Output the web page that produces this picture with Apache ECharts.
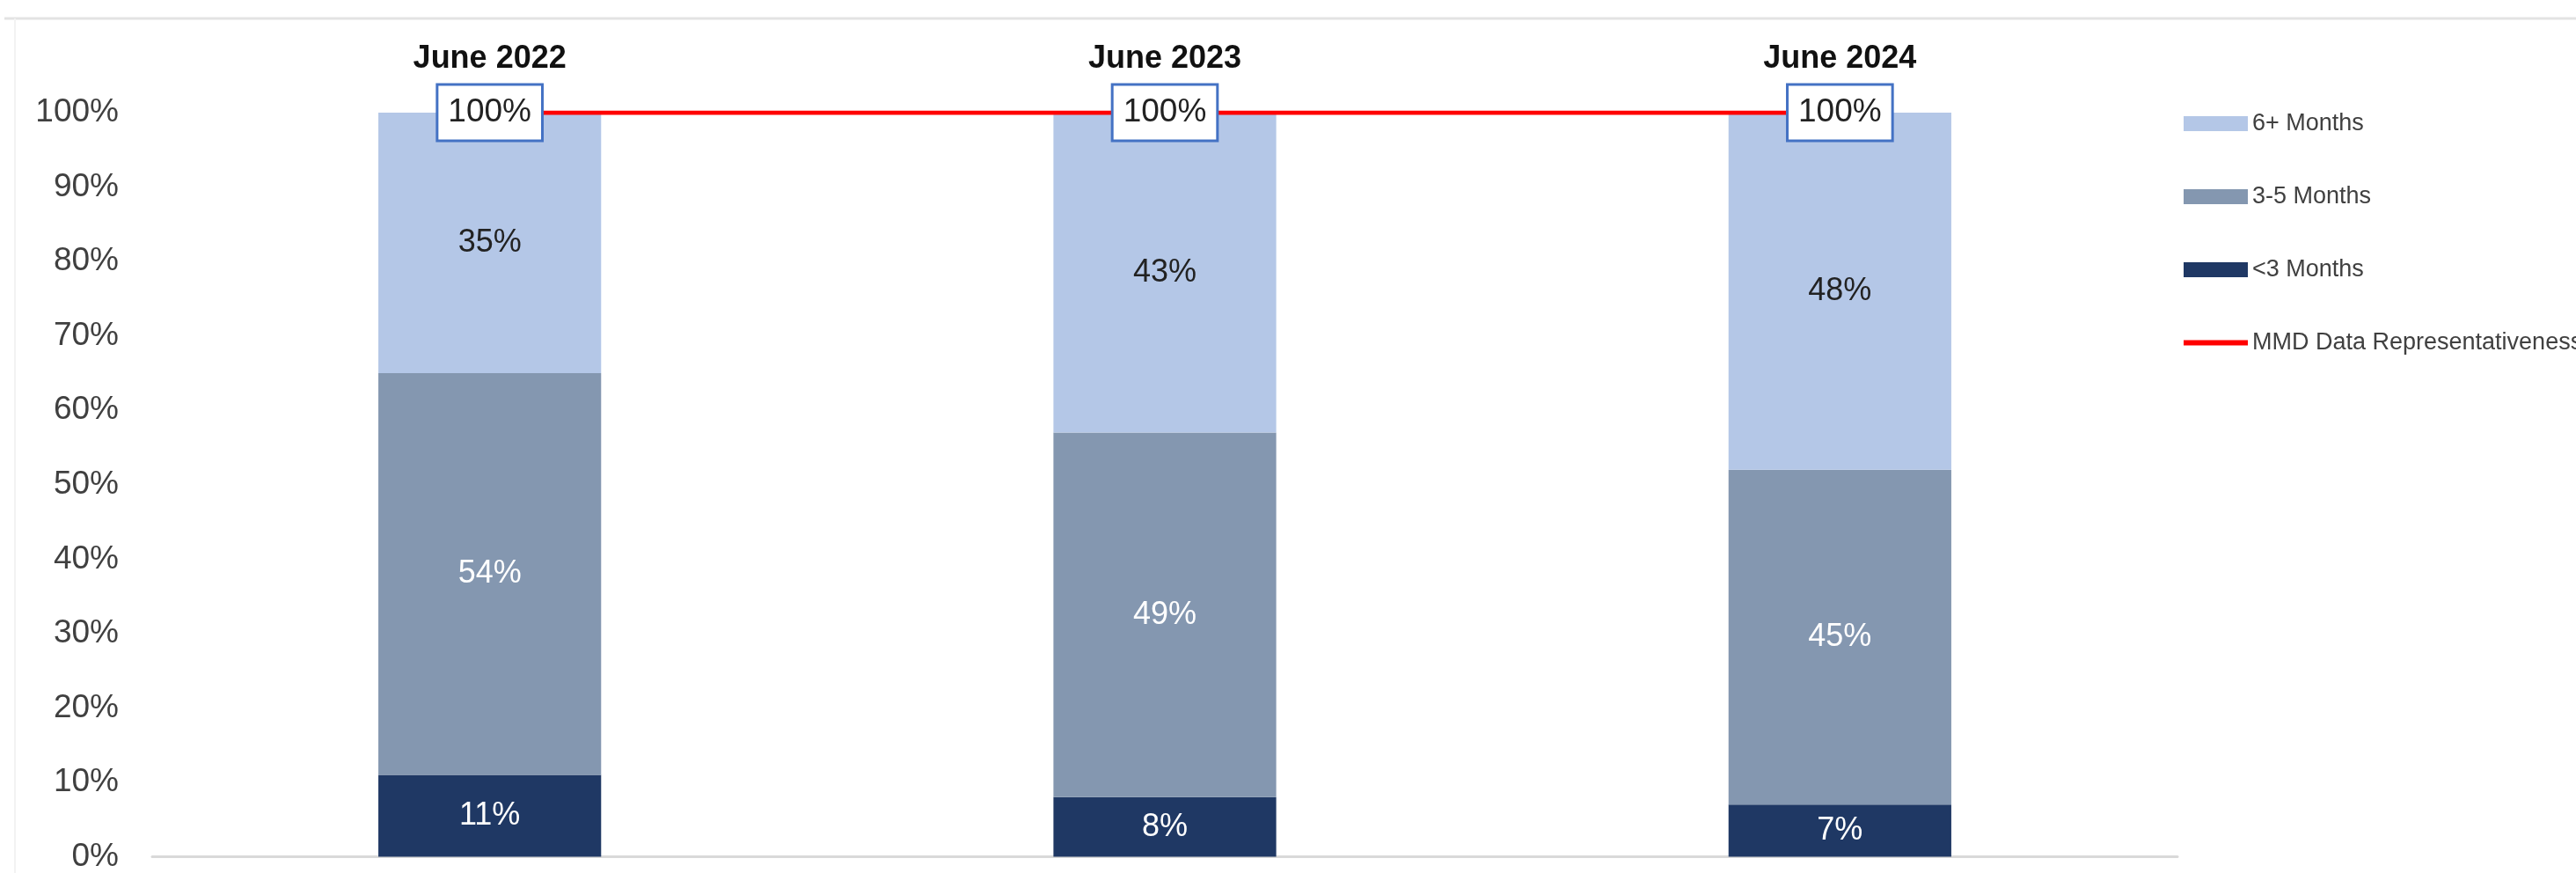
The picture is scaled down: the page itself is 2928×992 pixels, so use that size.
<!DOCTYPE html>
<html>
<head>
<meta charset="utf-8">
<script src="https://cdn.jsdelivr.net/npm/echarts@6/dist/echarts.min.js"></script>
<style>
html,body{margin:0;padding:0;background:#fff;}
#chart{width:2928px;height:992px;}
</style>
</head>
<body>
<div id="chart"></div>
<script>
const categories = ['June 2022', 'June 2023', 'June 2024'];
const under3 = [11, 8, 7];
const m3to5 = [54, 49, 45];
const m6plus = [35, 43, 48];
const mmdLine = [100, 100, 100];
const yTicks = [0, 10, 20, 30, 40, 50, 60, 70, 80, 90, 100];

const FONT = "'Liberation Sans', Arial, sans-serif";
const chart = echarts.init(document.getElementById('chart'));

const barLabel = (color) => ({
  show: true, position: 'inside', color: color,
  fontSize: 36, fontFamily: FONT,
  formatter: (p) => p.value + '%'
});

chart.setOption({
  backgroundColor: '#ffffff',
  animation: false,
  graphic: [
    { type: 'line', shape: { x1: 5, y1: 21, x2: 2928, y2: 21 }, style: { stroke: '#e3e3e3', lineWidth: 3 } },
    { type: 'line', shape: { x1: 17, y1: 21, x2: 17, y2: 992 }, style: { stroke: '#f2f2f2', lineWidth: 2 } }
  ],
  grid: { left: 173, right: 453, top: 128, bottom: 18, containLabel: false },
  legend: {
    orient: 'vertical', left: 2477, top: 122,
    itemWidth: 73, itemHeight: 17, itemGap: 56,
    textStyle: { fontSize: 27, fontFamily: FONT, color: '#404040' },
    data: [
      { name: '6+ Months', icon: 'rect' },
      { name: '3-5 Months', icon: 'rect' },
      { name: '<3 Months', icon: 'rect' },
      { name: 'MMD Data Representativeness', icon: 'path://M0,0 L0,0 M0,17 L0,17 M0,5.5 L73,5.5 L73,11.5 L0,11.5 Z' }
    ]
  },
  xAxis: [
    {
      type: 'category', data: categories, position: 'bottom',
      axisLine: { show: true, lineStyle: { color: '#d9d9d9', width: 3 } },
      axisTick: { show: false }, axisLabel: { show: false }, splitLine: { show: false }
    },
    {
      type: 'category', data: categories, position: 'top',
      axisLine: { show: false }, axisTick: { show: false },
      axisLabel: { show: true, margin: 43, fontSize: 36, fontWeight: 'bold', fontFamily: FONT, color: '#111111' }
    }
  ],
  yAxis: {
    type: 'value', min: 0, max: 100, interval: 10,
    axisLine: { show: false }, axisTick: { show: false }, splitLine: { show: false },
    axisLabel: { margin: 38, fontSize: 37, fontFamily: FONT, color: '#404040', formatter: (v) => yTicks.includes(v) ? v + '%' : '' }
  },
  series: [
    { name: '<3 Months', type: 'bar', stack: 'a', data: under3, barWidth: '33%', itemStyle: { color: '#1f3864' }, label: barLabel('#ffffff') },
    { name: '3-5 Months', type: 'bar', stack: 'a', data: m3to5, barWidth: '33%', itemStyle: { color: '#8497b0' }, label: barLabel('#ffffff') },
    { name: '6+ Months', type: 'bar', stack: 'a', data: m6plus, barWidth: '33%', itemStyle: { color: '#b4c7e7' }, label: barLabel('#222222') },
    {
      name: 'MMD Data Representativeness', type: 'line', data: mmdLine, z: 10,
      symbol: 'circle', symbolSize: 1, showSymbol: true,
      itemStyle: { color: '#ff0000' },
      lineStyle: { color: '#ff0000', width: 5 },
      label: {
        show: true, position: 'inside', formatter: (p) => p.value + '%',
        fontSize: 37, fontFamily: FONT, color: '#222222',
        backgroundColor: '#ffffff', borderColor: '#4472c4', borderWidth: 3,
        padding: [13, 11, 11, 11]
      }
    }
  ]
});
</script>
</body>
</html>
